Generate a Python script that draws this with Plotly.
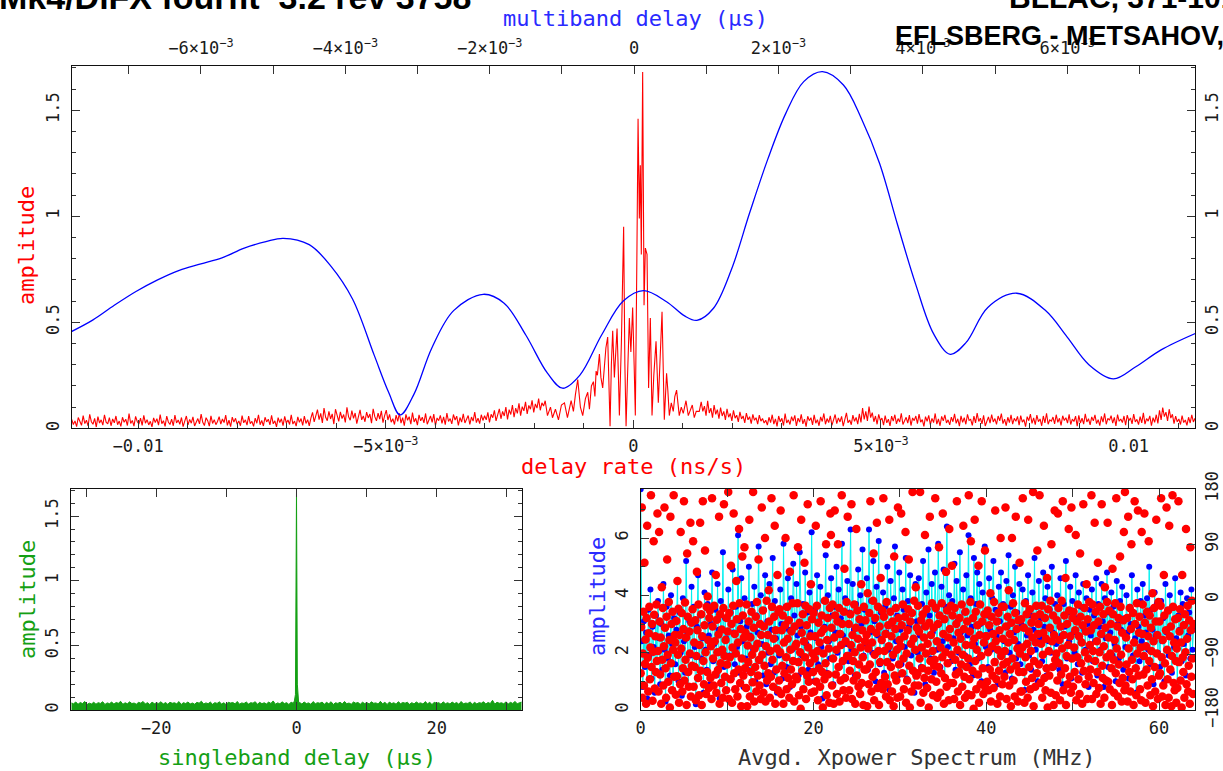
import numpy as np
import plotly.graph_objects as go

W, H = 1223, 771


def px(x):
    return x / W


def py(y):
    return 1 - y / H


# ---------------- data ----------------
# multiband delay function (blue, top axis); delay in units of 1e-3 us
mbd_delay_milli = [-7.8, -7.5, -7.2, -6.9, -6.6, -6.3, -6.0, -5.7, -5.4, -5.1,
                   -4.86, -4.5, -4.2, -3.9, -3.6, -3.4, -3.24, -3.05, -2.8, -2.5,
                   -2.09, -1.8, -1.5, -1.2, -0.99, -0.75, -0.45, -0.15, 0.13, 0.45,
                   0.7, 0.87, 1.1, 1.35, 1.6, 1.85, 2.1, 2.35, 2.61, 2.9,
                   3.15, 3.4, 3.65, 3.9, 4.15, 4.38, 4.6, 4.9, 5.3, 5.7,
                   6.0, 6.3, 6.64, 6.95, 7.3, 7.78]
mbd_amp = [0.455, 0.510, 0.580, 0.645, 0.700, 0.745, 0.775, 0.805, 0.850, 0.880,
           0.896, 0.866, 0.765, 0.610, 0.345, 0.170, 0.063, 0.160, 0.380, 0.555,
           0.632, 0.590, 0.440, 0.260, 0.189, 0.251, 0.440, 0.600, 0.649, 0.597,
           0.530, 0.509, 0.566, 0.750, 1.015, 1.267, 1.484, 1.635, 1.682, 1.619,
           1.460, 1.250, 0.960, 0.680, 0.445, 0.349, 0.405, 0.570, 0.637, 0.555,
           0.430, 0.300, 0.233, 0.290, 0.370, 0.448]

# delay-rate function (red); noise floor amplitudes in units of 1e-3
rate_noise_left_milli = [
    42, 18, 35, 8, 51, 27, 14, 60, 22, 38, 11, 66, 31, 19, 47, 6, 55, 25, 40, 15, 63, 29, 21, 50, 12, 44, 26, 58, 17, 34,
    9, 52, 28, 43, 13, 69, 23, 37, 10, 56, 32, 20, 48, 14, 61, 24, 41, 16, 33, 7,
    49, 27, 45, 15, 65, 22, 36, 9, 57, 30, 18, 43, 12, 62, 25, 39, 19, 51, 8, 34,
    58, 16, 42, 24, 54, 11, 31, 46, 21, 67, 28, 13, 50, 36, 10, 59, 23, 41, 17, 32,
    55, 20, 44, 27, 62, 14, 38, 8, 53, 29, 47, 19, 35, 12, 60, 26, 40, 15, 57, 22,
    33, 9, 48, 24, 64, 17, 37, 11, 52, 30, 43, 16, 61, 21, 35, 7, 50, 27, 45, 13,
    56, 25, 39, 18, 63, 20, 34, 10, 54, 28, 46, 14, 58, 23, 41, 12,
    48, 75, 30, 62, 88, 41, 70, 25, 95, 52, 36, 80, 44, 68, 20, 90, 57, 33, 78, 46,
    65, 28, 99, 54, 38, 84, 47, 72, 22, 63, 87, 40, 58, 31, 76, 49, 67, 24, 92, 55,
    35, 71, 43, 82, 27, 60, 86, 39, 66, 29,
    45, 18, 62, 33, 71, 24, 50, 12, 66, 38, 55, 20, 74, 30, 47, 15, 63, 35, 52, 26,
    70, 19, 44, 58, 28, 67, 13, 49, 36, 61, 23, 54, 17, 72, 32, 46, 21, 65, 39, 57,
    14, 51, 29, 68, 25, 43, 60, 18, 53, 34, 76, 27, 48, 22, 64, 37, 59,
    40, 75, 28, 66, 50, 85, 35, 70, 92, 45, 80, 58, 100, 42, 88, 65, 110, 52, 95, 70,
    118, 60, 102, 82, 125, 68, 108, 90, 132, 75, 115, 95, 140, 85, 120, 105, 130]
# central fringe region: delay rate in units of 1e-3 ns/s, amplitude
rate_center_milli = [
    -1.734, -1.673, -1.633, -1.573, -1.512, -1.452, -1.391, -1.331, -1.256, -1.210,
    -1.169, -1.123, -1.069, -1.022, -0.968, -0.921, -0.887, -0.847, -0.806, -0.776,
    -0.752, -0.726, -0.685, -0.655, -0.619, -0.585, -0.554, -0.518, -0.470, -0.444,
    -0.417, -0.383, -0.329, -0.302, -0.282, -0.242, -0.196, -0.171, -0.147, -0.121,
    -0.081, -0.050, -0.014, 0.016, 0.040, 0.071, 0.095, 0.121, 0.141, 0.161,
    0.188, 0.216, 0.242, 0.276, 0.308, 0.343, 0.377, 0.413, 0.458, 0.504,
    0.544, 0.579, 0.625, 0.671, 0.696, 0.726, 0.766, 0.806, 0.837, 0.873,
    0.927, 0.968, 1.008, 1.063, 1.109, 1.149, 1.190, 1.230, 1.270, 1.331]
rate_center_amp = [
    0.06, 0.10, 0.05, 0.09, 0.04, 0.11, 0.12, 0.05, 0.13, 0.08,
    0.16, 0.23, 0.10, 0.06, 0.14, 0.17, 0.09, 0.20, 0.22, 0.15,
    0.27, 0.25, 0.35, 0.24, 0.19, 0.28, 0.38, 0.43, 0.01, 0.30,
    0.46, 0.24, 0.47, 0.25, 0.06, 0.40, 0.95, 0.30, 0.01, 0.22,
    0.52, 0.36, 0.57, 0.30, 0.06, 0.80, 1.46, 0.99, 1.24, 0.82,
    1.68, 0.58, 0.85, 0.82, 0.19, 0.52, 0.06, 0.25, 0.41, 0.12,
    0.40, 0.55, 0.04, 0.26, 0.18, 0.06, 0.12, 0.08, 0.15, 0.18,
    0.06, 0.10, 0.07, 0.13, 0.06, 0.09, 0.11, 0.05, 0.08, 0.08]
rate_noise_right_milli = [
    125, 80, 105, 60, 130, 72, 95, 50, 110, 66, 88, 45, 98, 58, 80, 40, 92, 52, 70, 35,
    85, 48, 62, 30, 78, 44, 58, 26, 72, 40, 55, 22, 66, 38, 50, 20, 62, 34, 46, 25,
    38, 15, 52, 27, 64, 20, 44, 9, 58, 31, 47, 13, 69, 25, 40, 18, 55, 34, 61, 11,
    48, 29, 66, 21, 43, 8, 57, 36, 50, 16, 63, 24, 41, 12, 54, 32, 70, 19, 46, 27,
    59, 14, 38, 65, 22, 49, 30, 56, 10, 45, 73, 26, 39, 17, 62, 33, 51, 20, 68, 28,
    95, 42, 80, 35, 102, 50, 74, 31, 58, 19, 66, 37, 48, 15, 60, 26, 43, 11, 57, 34,
    64, 21, 46, 30, 71, 18, 39, 52, 24, 62, 13, 49, 36, 58, 22, 67, 29, 41, 9, 55,
    33, 61, 17, 47, 27, 70, 20, 44, 12, 56, 35, 63, 25, 40, 16, 53, 31, 68, 23, 45,
    10, 59, 28, 50, 19, 66, 37, 42, 14, 57, 26, 72, 32, 48, 21, 61, 11, 39, 54, 24,
    65, 30, 46, 18, 58, 35, 69, 22, 43, 13, 52, 27, 63, 20, 47, 33, 56, 15, 60, 29,
    41, 8, 55, 36, 67, 23, 49, 17, 62, 31, 44, 12, 58, 26, 71, 19, 40, 34, 53, 21,
    64, 28, 47, 14, 59, 37, 50, 24, 66, 18, 43, 32, 57, 10, 61, 25, 48, 20, 68, 30,
    45, 16, 54, 35, 63, 22, 41, 13, 56, 29, 70, 19, 47, 38, 60, 24, 52, 11, 65, 33,
    44, 27, 58, 15, 62, 36, 49, 21, 67, 30, 42, 17, 55, 26, 73, 20, 46, 34, 59, 12,
    50, 28, 64, 23, 85, 40, 98, 55, 76, 35, 90, 48, 66, 22, 57, 31, 44, 18, 60, 27,
    39, 14, 52, 25, 63, 30, 47]

# singleband delay function (green); noise envelope in units of 1e-3
sbd_noise_left_milli = [
    55, 48, 62, 44, 58, 50, 66, 42, 53, 47, 60, 45, 57, 51, 64, 43, 55, 49, 61, 46,
    58, 52, 67, 44, 56, 48, 63, 50, 54, 45, 59, 53, 66, 47, 57, 42, 61, 49, 55, 51,
    64, 46, 58, 44, 60, 52, 56, 48, 65, 43, 57, 50, 62, 47, 54, 45, 59, 53, 68, 46,
    55, 49, 61, 44, 57, 51, 63, 47, 56, 42, 60, 54, 58, 48, 66, 45, 55, 50, 62, 46,
    57, 53, 64, 44, 59, 49, 56, 47, 61, 51, 70, 45, 55, 48, 63, 50, 57, 43, 60, 52]
sbd_center_delay = [-0.30, -0.15, 0.0, 0.12, 0.30]
sbd_center_amp = [0.07, 0.12, 1.70, 0.20, 0.06]
sbd_noise_right_milli = [
    58, 46, 62, 50, 55, 44, 65, 49, 57, 52, 61, 45, 59, 48, 64, 43, 56, 51, 60, 47,
    66, 49, 54, 45, 62, 53, 58, 44, 60, 50, 57, 47, 63, 52, 55, 46, 67, 48, 59, 43,
    61, 50, 56, 45, 64, 49, 58, 53, 60, 44, 57, 47, 62, 51, 55, 46, 65, 48, 59, 42,
    60, 52, 57, 45, 63, 49, 56, 47, 61, 50, 58, 44, 66, 48, 54, 51, 62, 45, 59, 47,
    57, 53, 64, 46, 58, 50, 75, 45, 60, 52, 56, 48, 63, 47, 59, 51, 66, 49, 58, 62]

# averaged cross-power spectrum: amplitude (x0.1) per channel
xp_amp_tenths = [
    77, 24, 8, 31, 15, 27, 4, 35, 19, 42, 11, 29, 22, 6, 33, 17, 38, 25, 9, 30, 14, 44, 21, 3, 36, 18, 26, 12, 40, 23, 7, 32,
    16, 28, 45, 10, 34, 20, 5, 39, 24, 13, 52, 27, 8, 31, 19, 43, 15, 36, 22, 2, 29, 47, 11, 33, 18, 25, 6, 41, 21, 14, 37, 26,
    9, 30, 48, 17, 23, 35, 12, 44, 28, 4, 38, 20, 55, 15, 32, 25, 7, 42, 19, 34, 11, 49, 27, 16, 36, 22, 61, 13, 31, 46, 24, 8,
    39, 18, 29, 14, 50, 26, 5, 37, 21, 43, 10, 33, 27, 57, 17, 40, 23, 12, 35, 47, 9, 31, 20, 44, 16, 28, 53, 13, 38, 25, 6, 34,
    19, 42, 30, 11, 58, 24, 36, 15, 46, 28, 8, 39, 21, 51, 33, 17, 44, 26, 12, 55, 29, 19, 37, 7, 48, 23, 34, 14, 41, 27, 62, 20,
    10, 35, 25, 47, 16, 31, 43, 22, 4, 38, 29, 54, 13, 40, 24, 18, 46, 33, 9, 36, 27, 50, 20, 42, 15, 32, 58, 26, 11, 39, 23, 45,
    17, 34, 63, 21, 44, 28, 12, 37, 25, 49, 8, 40, 30, 56, 19, 35, 23, 46, 14, 63, 27, 38, 20, 52, 31, 10, 43, 26, 59, 16, 34, 24,
    41, 13, 36, 27, 50, 21, 7, 45, 30, 18, 39, 57, 24, 33, 12, 48, 28, 16, 42, 35, 22, 53, 11, 38, 29, 47, 19, 34, 25, 6, 44, 31,
    20, 46, 26, 15, 37, 52, 29, 9, 41, 23, 56, 33, 18, 44, 27, 13, 48, 35, 21, 58, 30, 15, 43, 24, 49, 11, 36, 64, 22, 40, 28, 17,
    38, 25, 51, 14, 45, 31, 20, 55, 27, 8, 42, 34, 19, 47, 26, 61, 16, 39, 29, 12, 53, 23, 37, 48, 18, 44, 30, 10, 41, 26, 57, 22,
    33, 15, 46, 28, 21, 39, 52, 17, 35, 26, 9, 43, 31, 48, 19, 37, 24, 13, 45, 29, 54, 20, 36, 11, 40, 27, 50, 18, 34, 23, 44, 16,
    30, 42, 22, 7, 38, 26, 47, 19, 33, 14, 41, 28, 53, 21, 36, 10, 45, 25, 32, 17, 48, 29, 39, 12, 43, 24, 35, 20, 50, 27, 15, 37,
    23, 40, 31, 14, 46, 26, 9, 37, 29, 52, 18, 34, 24, 43, 11, 38, 27, 20, 47, 32, 16, 41, 25, 36, 13, 44, 28, 21, 39, 30, 8, 35,
    26, 42, 17, 33, 24, 46, 12, 37, 29, 21, 44, 31, 8, 39, 25, 48, 15, 34, 27, 41, 19, 36, 23, 10, 45, 30, 18, 38, 28, 43, 14, 32,
    22, 40, 27, 11, 36, 30, 47, 19, 34, 25, 6, 42, 29, 17, 38, 24, 44, 13, 33, 27, 39, 21, 50, 16, 35, 28, 9, 41, 26, 37, 20, 31,
    15, 38, 24, 32, 10, 44, 27, 35, 19, 40, 29, 13, 36, 22, 46, 25, 8, 33, 28, 41, 17, 37, 23, 30, 12, 39, 26, 34, 18, 42, 21, 28]
# averaged cross-power spectrum: phase (deg) per channel
xp_phase_deg = [
    -120, -45, 150, -160, -88, -20, -140, 60, -105, -65, -170, -30, 120, -95, -150, -55, -12, -130, -78, 170, -110, -40, -165, -85, 95, -25, -145, -60, -118, -8, -100, 140,
    -84, -150, 110, -36, -122, -62, -170, 20, -98, -14, -140, -76, 150, -46, -112, -160, -28, 65, -90, -134, -4, -66, -176, 135, -104, -40, -148, -20, -82, 170, -126, -58,
    -70, -155, -35, -125, 30, -90, -15, -168, -58, -138, 110, -80, -22, -150, -112, -48, 160, -132, -5, -98, -62, -172, 75, -28, -118, -142, -52, -88, 125, -158, -38, -108,
    -16, 95, -142, -70, -110, -34, -164, -92, 45, -50, -128, -8, -156, -74, 125, -116, -24, -172, -60, 160, -100, -138, -42, 80, -86, -154, -12, -118, 5, -66, -144, -30,
    -18, -128, -76, -162, 165, -44, -96, -140, -10, -68, -122, 40, -152, -33, -86, -115, -57, 135, -170, -24, -104, -136, -49, -82, -160, -14, 155, -92, -126, -66, -148, -30,
    -106, -52, 175, -162, -22, -94, -130, 55, -40, -168, -78, -10, 140, -120, -56, -146, -88, 30, -32, -158, -70, -114, 115, -6, -136, -48, -174, -96, 70, -26, -124, -62,
    85, -112, -54, -144, -8, -174, -75, -102, -36, 130, -158, -62, -118, -20, -90, -135, 175, -46, -166, -80, -110, -28, -150, -4, -72, -124, 65, -98, -140, -40, -162, -58,
    150, -90, -18, -152, -44, -108, 100, -166, -76, -2, -132, -58, -120, 15, -36, -160, -84, -126, 165, -12, -98, -142, -64, -28, 120, -170, -50, -114, -80, 40, -148, -20,
    -132, -16, -86, 145, -154, -50, -108, -26, -170, -70, -120, -42, 100, -94, -146, -12, -64, -128, -34, -160, 45, -82, -114, -52, -138, -6, -100, 170, -166, -44, -76, -126,
    -72, -130, -6, 85, -102, -156, -38, -86, -178, 130, -54, -116, -24, -146, -68, 60, -94, -10, -162, -42, -124, 155, -78, -134, -16, -104, -60, 25, -152, -32, -88, -118,
    -22, -150, -96, -60, 120, -134, -10, -84, -164, -38, -112, -70, -142, 160, -54, -26, -118, -176, -88, -48, -130, -2, -104, 90, -156, -66, -30, -122, -80, -168, -14, 140,
    105, -46, -140, -8, -96, -170, -62, 145, -26, -122, -82, -154, -36, 90, -110, -14, -166, -56, -132, -74, 170, -40, -100, -148, -20, 50, -128, -68, -160, -4, -92, 135,
    -92, -40, -148, -116, -24, -74, 155, -162, -58, -100, -132, -8, -86, -170, -46, 115, -124, -18, -64, -142, -106, -32, -154, -78, 25, -136, -50, -94, -172, -12, -114, -68,
    -34, -114, -58, -174, 10, -80, -138, -22, -106, 160, -48, -150, -70, -126, -2, 75, -164, -90, -30, -118, -54, 125, -144, -12, -84, -172, -44, -102, 35, -136, -66, -18,
    -146, 165, -28, -84, -126, -56, -158, -4, -102, -138, -42, -76, 130, -164, -20, -110, -60, -150, -36, -90, -174, 70, -124, -48, -14, -132, -82, -160, 150, -30, -106, -66,
    -158, -76, 140, -42, -120, -8, -96, -146, -60, -28, 110, -168, -88, -132, -50, -16, 65, -108, -176, -36, -72, -150, -22, 175, -116, -64, -2, -140, -82, 20, -124, -46,
    -120, -10, -140, -52, -96, 175, -168, -34, -78, -112, -24, -152, -62, -128, 105, -44, -88, -16, -144, -72, -116, -176, -38, 135, -100, -58, -130, -6, -84, -156, -46, -108,
    -98, 165, -14, -134, -68, -160, -40, -110, 85, -26, -152, -78, -120, -6, -94, 140, -56, -170, -32, -128, -86, 45, -142, -18, -104, -62, -164, 115, -48, -136, -10, -90,
    55, -26, -136, -70, -162, -14, -98, -122, -40, 160, -82, -150, -54, -118, -30, -172, -64, -106, -8, -142, -90, 120, -48, -126, -160, -20, -74, -110, -36, -154, -96, 170,
    -130, -52, -4, 95, -156, -74, -116, -30, -178, -64, 130, -100, -20, -146, -82, -42, -122, 55, -168, -58, -8, -138, -92, 160, -36, -112, -154, -70, -24, 80, -144, -60,
    -60, -134, -18, -86, -148, -42, -114, 10, -166, -28, -76, -124, -56, -144, -4, -102, 145, -68, -130, -36, -170, -82, -22, -116, -50, -158, 100, -92, -12, -138, -64, -106,
    -12, -126, -84, 150, -44, -162, -102, -28, -70, 15, -140, -56, -114, -174, -38, 100, -96, -6, -132, -66, -158, -22, 135, -108, -48, -80, -166, -34, -118, 60, -88, -150,
    -32, -150, -78, 165, -118, -46, -168, -6, -94, -134, -24, -72, -160, 130, -52, -110, -16, -146, -84, -38, -128, -62, 175, -174, -100, -28, -142, -70, -10, -120, 80, -56,
    -40, -106, 170, -24, -136, -72, -10, -160, -90, -54, 120, -128, -30, -148, -64, -112, 35, -176, -16, -84, -124, -46, -2, -152, 90, -68, -110, -26, -172, -58, 145, -98,
    -156, -88, -34, -132, 140, -14, -104, -66, -164, -44, -122, -2, -80, 160, -148, -58, -26, -112, 35, -172, -92, -40, -138, -74, 115, -18, -126, -60, -152, 150, -96, -30,
    -142, -20, -78, -118, -50, 105, -164, -36, -94, -8, -130, -60, -154, 75, -28, -104, -70, -170, -42, 155, -116, -14, -86, -138, -52, 25, -162, -32, -96, -126, -4, -74,
    -114, -50, 170, -162, -8, -84, -136, -42, 125, -100, -20, -154, -68, -118, 60, -36, -144, -86, -12, -170, -56, 155, -108, -128, -24, -76, -160, 20, -46, -132, -94, -4,
    125, -134, -62, -18, -146, -88, -40, -112, -172, 50, -24, -98, -152, -66, -6, -120, 165, -80, -44, -158, -30, -106, -136, 70, -12, -90, -166, -54, -128, -34, 110, -148,
    175, -140, -62, -106, -30, -166, 135, -80, -118, -14, -150, -48, 90, -98, -130, -22, -172, -70, 160, -40, -112, -156, -6, -88, 145, -124, -54, -28, -146, -78, -164, 110,
    -56, -8, -122, -92, 140, -38, -168, -76, -114, -20, -140, -60, 95, -100, -26, -156, -46, -84, -130, 10, -174, -68, -14, -110, -150, -36, 130, -88, -58, -162, -4, -124,
    -36, -120, -10, 165, -94, -158, -66, -140, 40, -26, -104, -172, -50, 150, -82, -130, -18, -160, 120, -60, -114, -44, -174, -92, 170, -12, -136, -70, -148, -32, -100, -168,
    -80, -144, -30, 160, -102, -52, -16, -132, -70, -176, 40, -94, -118, -42, -160, -24, -86, 115, -138, -64, -10, -150, -108, -34, -170, 85, -50, -126, -2, -96, -154, -40]

# axis ranges / ticks
rate_range = [-0.01134, 0.01134]
mbd_range = [-0.00779, 0.00777]
sbd_range = [-32.1, 32.1]
freq_range = [0, 64.2]
amp_range = [0, 1.71]
xp_amp_range = [0, 7.71]

rate_tickvals = [-0.01, -0.005, 0, 0.005, 0.01]
rate_ticktext = ["\u22120.01", "\u22125\u00d710<sup>\u22123</sup>", "0", "5\u00d710<sup>\u22123</sup>", "0.01"]
mbd_tickvals = [-0.006, -0.004, -0.002, 0, 0.002, 0.004, 0.006]
mbd_ticktext = ["\u22126\u00d710<sup>\u22123</sup>", "\u22124\u00d710<sup>\u22123</sup>",
                "\u22122\u00d710<sup>\u22123</sup>", "0", "2\u00d710<sup>\u22123</sup>",
                "4\u00d710<sup>\u22123</sup>", "6\u00d710<sup>\u22123</sup>"]

# ---------------- derived series ----------------
rate_x = np.concatenate([
    np.linspace(-11.34e-3, -1.78e-3, len(rate_noise_left_milli)),
    np.array(rate_center_milli) * 1e-3,
    np.linspace(1.37e-3, 11.34e-3, len(rate_noise_right_milli))])
rate_amp = np.concatenate([
    np.array(rate_noise_left_milli) / 1000.0,
    np.array(rate_center_amp),
    np.array(rate_noise_right_milli) / 1000.0])

mbd_x = np.array(mbd_delay_milli) * 1e-3

sbd_x = np.concatenate([
    np.linspace(-32.1, -0.45, len(sbd_noise_left_milli)),
    np.array(sbd_center_delay),
    np.linspace(0.45, 32.1, len(sbd_noise_right_milli))])
sbd_amp = np.concatenate([
    np.array(sbd_noise_left_milli) / 1000.0,
    np.array(sbd_center_amp),
    np.array(sbd_noise_right_milli) / 1000.0])

xp_freq_a = np.linspace(0, 64, len(xp_amp_tenths))
xp_amp = np.array(xp_amp_tenths) / 10.0
xp_freq_p = np.linspace(0, 64, len(xp_phase_deg))

# ---------------- figure ----------------
MONO = "DejaVu Sans Mono"
TICKFONT = dict(family=MONO, size=17, color="#1a1a1a")
TSIZE = 22
RED, BLUE, GREEN = "#ff0000", "#0000ff", "#14a014"

fig = go.Figure()
fig.add_trace(go.Scatter(x=mbd_x, y=mbd_amp, mode="lines",
                         line=dict(color=BLUE, width=1.3, shape="spline", smoothing=1.0),
                         xaxis="x2", yaxis="y2", hoverinfo="skip"))
fig.add_trace(go.Scatter(x=rate_x, y=rate_amp, mode="lines",
                         line=dict(color=RED, width=1.1), xaxis="x", yaxis="y"))
fig.add_trace(go.Scatter(x=sbd_x, y=sbd_amp, mode="lines", fill="tozeroy",
                         fillcolor=GREEN, line=dict(color=GREEN, width=1),
                         xaxis="x3", yaxis="y3"))
fig.add_trace(go.Scatter(x=xp_freq_a, y=xp_amp, mode="lines+markers",
                         line=dict(color="#00f0f0", width=1),
                         marker=dict(color=BLUE, size=6),
                         xaxis="x4", yaxis="y4"))
fig.add_trace(go.Scatter(x=xp_freq_p, y=xp_phase_deg, mode="markers",
                         marker=dict(color=RED, size=8.5),
                         xaxis="x4", yaxis="y5"))


def ax(**kw):
    base = dict(showline=True, linecolor="#111111", linewidth=1.2, ticks="inside",
                tickcolor="#333333", ticklen=8, tickwidth=1, showgrid=False,
                zeroline=False, tickfont=TICKFONT, tickmode="array", automargin=False)
    base.update(kw)
    return base


def minor(vals, ln=4):
    return dict(ticks="inside", ticklen=ln, tickcolor="#333333", tickmode="array",
                tickvals=list(vals))


top_dom_x = [px(71.7), px(1195)]
top_dom_y = [py(428.3), py(65.7)]
bl_dom_x = [px(71.3), px(521.7)]
br_dom_x = [px(640.7), px(1195.3)]
bot_dom_y = [py(710), py(489)]
amp_ticks = [0, 0.5, 1, 1.5]
amp_text = ["0", "0.5", "1", "1.5"]
amp_minor = np.round(np.arange(0, 1.71, 0.1), 2)

fig.update_layout(
    width=W, height=H, margin=dict(l=0, r=0, t=0, b=0, autoexpand=False),
    paper_bgcolor="white", plot_bgcolor="white", showlegend=False,
    xaxis=ax(domain=top_dom_x, anchor="y", range=rate_range, tickvals=rate_tickvals,
             ticktext=rate_ticktext, ticklabelstandoff=2,
             minor=minor(np.round(np.arange(-11, 12) * 1e-3, 4), 5)),
    xaxis2=ax(overlaying="x", side="top", anchor="y", range=mbd_range,
              tickvals=mbd_tickvals, ticktext=mbd_ticktext, ticklabelstandoff=4,
              minor=minor(np.round(np.arange(-7, 8) * 1e-3, 4), 8)),
    yaxis=ax(domain=top_dom_y, anchor="x", range=amp_range, tickvals=amp_ticks,
             ticktext=amp_text, tickangle=-90, ticklabelstandoff=5,
             minor=minor(amp_minor, 4)),
    yaxis2=ax(overlaying="y", side="right", anchor="x", range=amp_range,
              tickvals=amp_ticks, ticktext=amp_text, tickangle=-90, ticklabelstandoff=1,
              minor=minor(amp_minor, 4)),
    xaxis3=ax(domain=bl_dom_x, anchor="y3", range=sbd_range, tickvals=[-20, 0, 20],
              ticktext=["\u221220", "0", "20"], mirror="ticks", ticklabelstandoff=2,
              minor=minor([-30, -10, 10, 30], 8)),
    yaxis3=ax(domain=bot_dom_y, anchor="x3", range=amp_range, tickvals=amp_ticks,
              ticktext=amp_text, tickangle=-90, mirror="ticks", ticklabelstandoff=5,
              minor=minor(amp_minor, 4)),
    xaxis4=ax(domain=br_dom_x, anchor="y4", range=freq_range, tickvals=[0, 20, 40, 60],
              ticktext=["0", "20", "40", "60"], mirror="ticks", ticklabelstandoff=2,
              minor=minor([10, 30, 50], 8)),
    yaxis4=ax(domain=bot_dom_y, anchor="x4", range=xp_amp_range, tickvals=[0, 2, 4, 6],
              ticktext=["0", "2", "4", "6"], tickangle=-90, ticklabelstandoff=5,
              minor=minor([1, 3, 5, 7], 4)),
    yaxis5=ax(overlaying="y4", side="right", anchor="x4", range=[-180, 180],
              tickvals=[-180, -90, 0, 90, 180],
              ticktext=["\u2212180", "\u221290", "0", "90", "180"], tickangle=-90,
              ticklabelstandoff=1),
)

ann = []


def title(text, x, y, color, angle=0, size=TSIZE):
    ann.append(dict(text=text, x=px(x), y=py(y), xref="paper", yref="paper",
                    xanchor="center", yanchor="middle", showarrow=False,
                    textangle=angle, font=dict(family=MONO, size=size, color=color)))


title("multiband delay (\u03bcs)", 636, 18, "#2a2aff")
title("delay rate (ns/s)", 633, 467, RED)
title("amplitude", 27, 246, RED, -90)
title("amplitude", 27, 600, GREEN, -90)
title("singleband delay (\u03bcs)", 297, 757, GREEN)
title("amplitude", 597, 597, "#2a2aff", -90)
title("Avgd. Xpower Spectrum (MHz)", 917, 757, "#333333")

HDR = "Liberation Sans"
ann.append(dict(text="<b>Mk4/DiFX fourfit  3.2 rev 3758</b>", x=px(-3), y=py(-3),
                xref="paper", yref="paper", xanchor="left", yanchor="middle",
                showarrow=False, font=dict(family=HDR, size=34, color="black")))
ann.append(dict(text="<b>BLLAC, 371-1013, rsxbe</b>", x=px(1007), y=py(-3),
                xref="paper", yref="paper", xanchor="left", yanchor="middle",
                showarrow=False, font=dict(family=HDR, size=30, color="black")))
ann.append(dict(text="<b>EFLSBERG - METSAHOV, fgroup X, pol LL</b>", x=px(893), y=py(36),
                xref="paper", yref="paper", xanchor="left", yanchor="middle",
                showarrow=False, font=dict(family=HDR, size=27, color="black")))
fig.update_layout(annotations=ann)

fig.write_html("out.html", config={"displayModeBar": False},
               post_script="document.body.style.margin='0px';")
